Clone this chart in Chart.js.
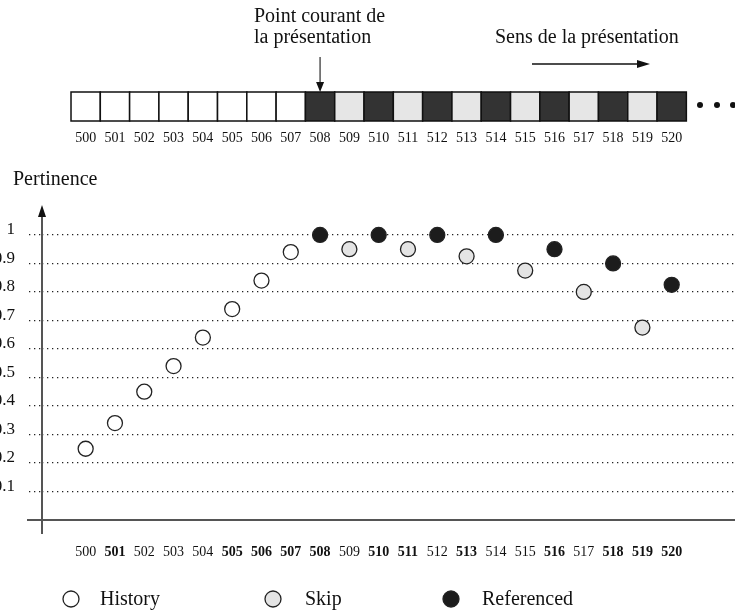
<!DOCTYPE html>
<html>
<head>
<meta charset="utf-8">
<script src="https://cdn.jsdelivr.net/npm/chart.js@4.4.1/dist/chart.umd.min.js"></script>
<style>
  html, body { margin: 0; padding: 0; background: #fff; }
  #wrap { width: 735px; height: 613px; }
</style>
</head>
<body>
<div id="wrap"><canvas id="chart" width="735" height="613"></canvas></div>
<script>
// Frames of the presentation and their pertinence
const frames = [500, 501, 502, 503, 504, 505, 506, 507, 508, 509, 510,
                511, 512, 513, 514, 515, 516, 517, 518, 519, 520];
const pertinence = [0.25, 0.34, 0.45, 0.54, 0.64, 0.74, 0.84, 0.94, 1.0, 0.95, 1.0,
                    0.95, 1.0, 0.925, 1.0, 0.875, 0.95, 0.80, 0.90, 0.675, 0.825];
const kinds = ['history', 'history', 'history', 'history', 'history', 'history', 'history', 'history',
               'referenced', 'skip', 'referenced', 'skip', 'referenced', 'skip', 'referenced',
               'skip', 'referenced', 'skip', 'referenced', 'skip', 'referenced'];
const boldFrames = [501, 505, 506, 507, 508, 510, 511, 513, 516, 518, 519, 520];
const yTicks = [0.1, 0.2, 0.3, 0.4, 0.5, 0.6, 0.7, 0.8, 0.9, 1];
const currentFrame = 508;
const seriesKeys = ['history', 'skip', 'referenced'];
const seriesNames = ['History', 'Skip', 'Referenced'];

const SERIF = '"Liberation Serif", "Times New Roman", serif';
const fills = { history: '#ffffff', skip: '#e4e4e4', referenced: '#1c1c1c' };
const stripFills = { history: '#ffffff', skip: '#e6e6e6', referenced: '#333333' };

const datasets = seriesKeys.map((key, k) => ({
    label: seriesNames[k],
    data: frames
        .map((f, i) => ({ x: f, y: pertinence[i], kind: kinds[i] }))
        .filter(p => p.kind === key),
    backgroundColor: fills[key],
    borderColor: '#222222',
    borderWidth: 1.3,
    pointRadius: 7.5,
    pointHoverRadius: 7.5
}));

function arrow(ctx, x1, y1, x2, y2, head, half) {
    const a = Math.atan2(y2 - y1, x2 - x1);
    ctx.beginPath();
    ctx.moveTo(x1, y1);
    ctx.lineTo(x2 - head * Math.cos(a), y2 - head * Math.sin(a));
    ctx.stroke();
    ctx.beginPath();
    ctx.moveTo(x2, y2);
    ctx.lineTo(x2 - head * Math.cos(a) + half * Math.sin(a), y2 - head * Math.sin(a) - half * Math.cos(a));
    ctx.lineTo(x2 - head * Math.cos(a) - half * Math.sin(a), y2 - head * Math.sin(a) + half * Math.cos(a));
    ctx.closePath();
    ctx.fill();
}

// strip of frames, annotations, axes with arrow, legend
const decorations = {
    id: 'decorations',
    afterDraw(chart) {
        const { ctx, chartArea, scales: { x } } = chart;
        const half = (x.getPixelForValue(frames[1]) - x.getPixelForValue(frames[0])) / 2;
        ctx.save();

        // frame strip
        ctx.lineWidth = 1.5;
        ctx.strokeStyle = '#111';
        frames.forEach((f, i) => {
            const cx = x.getPixelForValue(f);
            ctx.fillStyle = stripFills[kinds[i]];
            ctx.fillRect(cx - half, 92, half * 2, 29);
            ctx.strokeRect(cx - half, 92, half * 2, 29);
        });
        ctx.fillStyle = '#111';
        ctx.font = '14px ' + SERIF;
        ctx.textAlign = 'center';
        ctx.textBaseline = 'middle';
        frames.forEach(f => ctx.fillText(String(f), x.getPixelForValue(f), 138));

        // ellipsis dots
        [700, 717, 733].forEach(dx => {
            ctx.beginPath();
            ctx.arc(dx, 105, 3, 0, Math.PI * 2);
            ctx.fill();
        });

        // annotations
        ctx.font = '20px ' + SERIF;
        ctx.textAlign = 'left';
        ctx.textBaseline = 'alphabetic';
        ctx.fillText('Point courant de', 254, 22);
        ctx.fillText('la présentation', 254, 43);
        ctx.fillText('Sens de la présentation', 495, 43);
        ctx.fillText('Pertinence', 13, 185);

        ctx.lineWidth = 1.5;
        ctx.strokeStyle = '#555';
        ctx.fillStyle = '#111';
        arrow(ctx, x.getPixelForValue(currentFrame), 57, x.getPixelForValue(currentFrame), 92, 10, 4);
        ctx.strokeStyle = '#111';
        arrow(ctx, 532, 64, 650, 64, 13, 4);

        // axes
        ctx.strokeStyle = '#555';
        ctx.fillStyle = '#111';
        ctx.lineWidth = 2;
        ctx.beginPath();
        ctx.moveTo(27, chartArea.bottom);
        ctx.lineTo(735, chartArea.bottom);
        ctx.stroke();
        arrow(ctx, chartArea.left, 534, chartArea.left, chartArea.top, 12, 4);

        // legend
        const legendX = [71, 273, 451];
        const legendText = [100, 305, 482];
        chart.data.datasets.forEach((ds, k) => {
            ctx.beginPath();
            ctx.arc(legendX[k], 599, 8, 0, Math.PI * 2);
            ctx.fillStyle = ds.backgroundColor;
            ctx.fill();
            ctx.lineWidth = 1.3;
            ctx.strokeStyle = '#222';
            ctx.stroke();
            ctx.fillStyle = '#111';
            ctx.font = '20px ' + SERIF;
            ctx.textBaseline = 'middle';
            ctx.fillText(ds.label, legendText[k], 600);
        });
        ctx.restore();
    }
};

new Chart(document.getElementById('chart'), {
    type: 'scatter',
    data: { datasets },
    options: {
        responsive: false,
        animation: false,
        layout: { autoPadding: false, padding: { top: 205, left: 0, right: 0, bottom: 0 } },
        plugins: { legend: { display: false }, tooltip: { enabled: false } },
        scales: {
            x: {
                type: 'linear',
                min: 498.51,
                max: 522.16,
                afterBuildTicks: axis => { axis.ticks = frames.map(v => ({ value: v })); },
                afterFit: axis => { axis.height = 93; },
                grid: { display: false },
                border: { display: false },
                ticks: {
                    padding: 16,
                    color: '#111',
                    maxRotation: 0,
                    autoSkip: false,
                    callback: v => String(v),
                    font: ctx => ({
                        family: SERIF,
                        size: 14,
                        weight: boldFrames.includes(ctx.tick && ctx.tick.value) ? 'bold' : 'normal'
                    })
                }
            },
            y: {
                min: 0,
                max: 1.105,
                afterBuildTicks: axis => { axis.ticks = yTicks.map(v => ({ value: v })); },
                afterFit: axis => { axis.width = 42; },
                grid: {
                    color: '#222',
                    lineWidth: 1.3,
                    tickLength: 13,
                    tickBorderDash: [1.3, 3.7]
                },
                border: { display: false, dash: [1.3, 3.7] },
                ticks: {
                    padding: 14,
                    labelOffset: -5,
                    color: '#111',
                    font: { family: SERIF, size: 17 },
                    callback: v => String(v)
                }
            }
        }
    },
    plugins: [decorations]
});
</script>
</body>
</html>
